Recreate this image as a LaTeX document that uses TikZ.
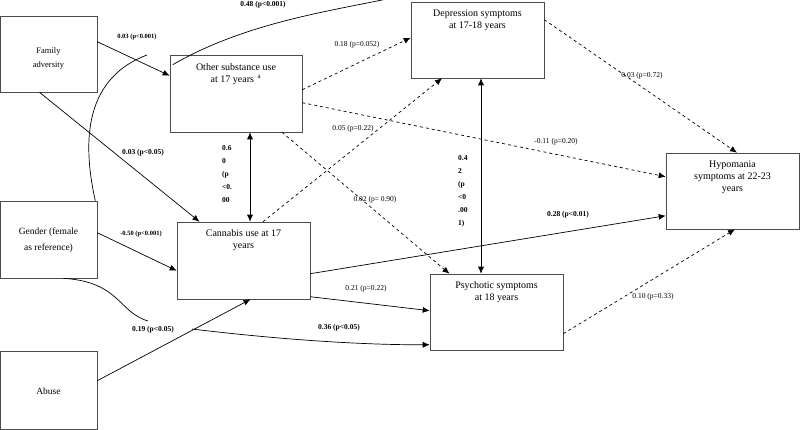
\documentclass[tikz,border=0pt]{standalone}
\usepackage{fontspec}
\setmainfont{Liberation Serif}
\usetikzlibrary{arrows.meta}
\begin{document}
\begin{tikzpicture}[x=1pt,y=-1pt,
  box/.style={draw=black!70,line width=0.6pt,inner sep=0pt},
  bt/.style={font=\fontsize{10}{12}\selectfont,align=center,anchor=north},
  lab/.style={font=\fontsize{7.5}{9}\selectfont,inner sep=0pt},
  blab/.style={lab,font=\fontsize{7.5}{9}\selectfont\bfseries},
  arr/.style={line width=0.7pt,-{Latex[length=7pt,width=6pt]}},
  darr/.style={arr,dashed},
  barr/.style={line width=0.7pt,{Latex[length=7pt,width=6pt]}-{Latex[length=7pt,width=6pt]}},
  ln/.style={line width=0.7pt}]
\useasboundingbox (0,0) rectangle (800,429);
\node[box,minimum width=97pt,minimum height=76pt] (fam) at (48.5,54) {};
\node[box,minimum width=132pt,minimum height=77pt] (oth) at (236,93.5) {};
\node[box,minimum width=133pt,minimum height=76pt] (dep) at (477.5,40) {};
\node[box,minimum width=133pt,minimum height=76pt] (hyp) at (732.5,191) {};
\node[box,minimum width=97pt,minimum height=77pt] (gen) at (48.5,239.5) {};
\node[box,minimum width=133pt,minimum height=77pt] (can) at (243.5,260.5) {};
\node[box,minimum width=133pt,minimum height=76pt] (psy) at (496.5,312) {};
\node[box,minimum width=97pt,minimum height=78pt] (abu) at (48.5,390) {};
\node[bt,font=\fontsize{8.5}{14}\selectfont] (famt) at (48.5,44) {Family\\adversity};
\node[bt] (otht) at (236,60) {Other substance use\\at 17 years \textsuperscript{\,a}};
\node[bt] (dept) at (477.5,6) {Depression symptoms\\at 17-18 years};
\node[bt] (hypt) at (732.5,157) {Hypomania\\symptoms at 22-23\\years};
\node[bt,font=\fontsize{9.5}{16}\selectfont] (gent) at (48.5,224) {Gender (female\\as reference)};
\node[bt] (cant) at (243.5,226) {Cannabis use at 17\\years};
\node[bt] (psyt) at (496.5,278) {Psychotic symptoms\\at 18 years};
\node[bt,font=\fontsize{9.5}{12}\selectfont] (abut) at (48.5,384) {Abuse};
% solid paths
\draw[arr] ([yshift=-10pt]oth.north west) ++(3,0) coordinate (s48) .. controls (250,20) and (340,10) .. ([yshift=8pt]dep.north west);
\draw[arr] ([yshift=-26pt]fam.north east) -- ([yshift=-21pt]oth.north west);
\draw[arr] ([xshift=-9pt]fam.south) -- ([xshift=-44pt]can.north);
\draw[arr] ([yshift=-32pt]gen.north east) -- ([yshift=-49pt]can.north west);
\draw[arr] ([yshift=-30pt]abu.north east) -- ([xshift=7pt]can.south);
\draw[ln] ([xshift=-2pt]gen.north east) .. controls (84,150) and (80,80) .. (147,55) coordinate (gc);
\draw[ln] ([xshift=15pt]gen.south) .. controls (120,282) and (118,312) .. (148,321) coordinate (gb);
\draw[arr] (192,329) coordinate (gb2) .. controls (300,342) and (380,345) .. ([yshift=-71pt]psy.north west);
\draw[barr] ([xshift=14pt]oth.south) -- ([xshift=6.5pt]can.north);
\draw[barr] ([xshift=3.5pt]dep.south) -- ([xshift=-15.5pt]psy.north);
\draw[arr] ([yshift=-52pt]can.north east) -- ([yshift=-63pt]hyp.north west);
\draw[arr] ([yshift=-75pt]can.north east) -- ([yshift=-37pt]psy.north west);
% dashed
\draw[darr] ([yshift=-35pt]oth.north east) -- ([yshift=-36pt]dep.north west);
\draw[darr] ([yshift=-48pt]oth.north east) -- ([yshift=-24pt]hyp.north west);
\draw[darr] ([xshift=46pt]oth.south) -- ([xshift=-47pt]psy.north);
\draw[darr] ([xshift=19.5pt]can.north) -- ([xshift=-35.5pt]dep.south);
\draw[darr] ([yshift=-18pt]dep.north east) -- ([xshift=4.5pt]hyp.north);
\draw[darr] ([yshift=-60pt]psy.north east) -- ([xshift=2.5pt]hyp.south);
% labels
\node[blab] (l1) at (263,5) {0.48 (p<0.001)};
\node[blab,font=\fontsize{6.5}{8}\selectfont\bfseries] (l2) at (137,37) {0.03 (p<0.001)};
\node[blab] (l3) at (143,153) {0.03 (p<0.05)};
\node[blab,font=\fontsize{6.5}{8}\selectfont\bfseries] (l4) at (141,234) {-0.50 (p<0.001)};
\node[blab] (l5) at (153,330) {0.19 (p<0.05)};
\node[blab] (l6) at (339,328) {0.36 (p<0.05)};
\node[blab] (l7) at (568,215) {0.28 (p<0.01)};
\node[blab,align=left,anchor=north west,font=\fontsize{7.5}{13}\selectfont\bfseries] (l8) at (222,145) {0.6\\0\\(p\\<0.\\00};
\node[blab,align=left,anchor=north west,font=\fontsize{7.5}{13}\selectfont\bfseries] (l9) at (458,155) {0.4\\2\\(p\\<0\\.00\\1)};
\node[lab] (l10) at (357,45) {0.18 (p=0.052)};
\node[lab] (l11) at (556,142) {-0.11 (p=0.20)};
\node[lab] (l12) at (375,200) {0.02 (p= 0.90)};
\node[lab] (l13) at (353,129) {0.05 (p=0.22)};
\node[lab] (l14) at (642,76) {0.03 (p=0.72)};
\node[lab] (l15) at (366,289) {0.21 (p=0.22)};
\node[lab] (l16) at (653,297) {0.10 (p=0.33)};
\end{tikzpicture}
\end{document}
